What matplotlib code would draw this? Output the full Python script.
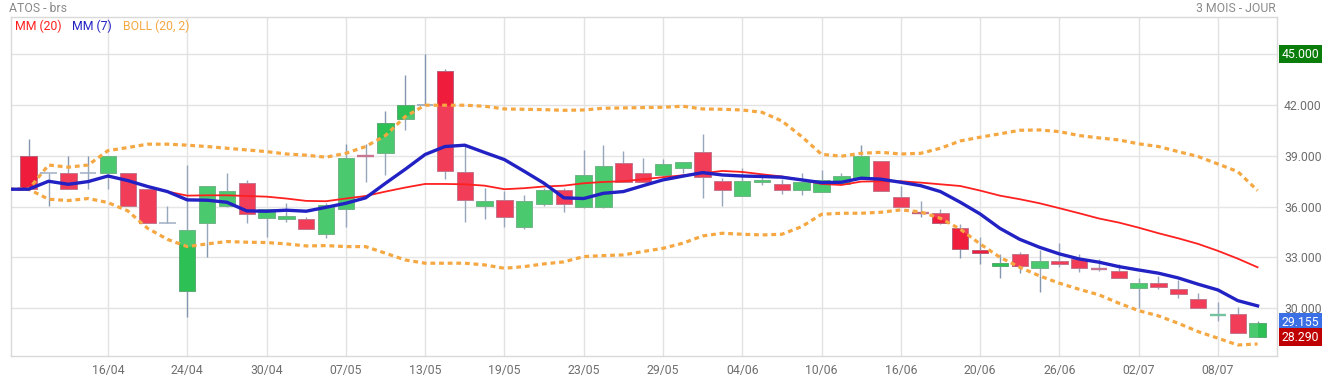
import numpy as np
import pandas as pd
import matplotlib
matplotlib.use("Agg")
import matplotlib.pyplot as plt
from matplotlib.patches import Rectangle
from matplotlib.transforms import blended_transform_factory

plt.rcParams['font.family'] = ['Roboto', 'DejaVu Sans']

## 1. Data
holidays = ['2025-04-18', '2025-04-21', '2025-05-01']
days = [d for d in pd.bdate_range('2025-04-10', '2025-07-10') if d.strftime('%Y-%m-%d') not in holidays]

opens = [39.00, 37.97, 37.97, 37.97, 37.97, 37.97, 37.03, 35.02, 31.00, 35.02,
         36.02, 37.38, 35.31, 35.30, 35.26, 34.37, 35.85, 39.02, 39.19, 41.20,
         41.99, 44.00, 38.03, 36.02, 36.38, 34.82, 36.18, 36.97, 35.96, 35.96,
         38.56, 37.97, 37.89, 38.31, 39.21, 37.50, 36.61, 37.48, 37.32, 36.97,
         36.89, 37.36, 37.62, 38.68, 36.56, 35.67, 35.61, 34.72, 33.43, 32.52,
         33.19, 32.40, 32.78, 32.93, 32.38, 32.18, 31.18, 31.48, 31.14, 30.55,
         29.60, 29.65, 28.29]
highs = [40.00, 37.97, 39.00, 39.00, 39.00, 37.97, 37.03, 36.04, 38.46, 37.22,
         37.99, 37.58, 35.85, 36.20, 35.37, 36.20, 39.70, 39.70, 41.65, 43.78,
         45.00, 44.11, 39.59, 37.09, 36.95, 36.69, 37.09, 37.09, 39.35, 39.65,
         39.29, 38.88, 38.82, 38.62, 40.30, 37.68, 38.29, 37.76, 37.62, 37.99,
         38.17, 37.99, 39.65, 38.68, 37.24, 36.32, 35.85, 34.98, 34.19, 33.19,
         33.33, 33.44, 33.86, 33.19, 32.89, 32.60, 31.79, 31.93, 31.67, 30.89,
         30.35, 30.06, 29.25]
lows = [37.03, 36.06, 37.03, 37.07, 37.07, 36.04, 35.02, 35.02, 29.47, 33.05,
        35.96, 35.06, 34.23, 35.12, 34.67, 34.17, 34.82, 37.48, 37.89, 40.55,
        41.99, 37.66, 35.12, 35.30, 34.82, 34.70, 36.06, 35.71, 35.91, 35.91,
        37.48, 37.48, 37.78, 37.99, 36.54, 36.06, 36.61, 37.30, 36.77, 36.71,
        36.89, 37.36, 37.62, 36.91, 35.96, 35.41, 34.96, 32.99, 32.64, 31.81,
        32.11, 30.98, 32.46, 32.13, 32.22, 31.77, 30.00, 31.12, 30.63, 30.00,
        29.27, 28.52, 28.29]
closes = [37.03, 37.97, 37.03, 37.97, 39.00, 36.04, 35.02, 35.02, 34.61, 37.22,
          36.93, 35.55, 35.85, 35.45, 34.67, 36.08, 38.86, 38.98, 40.93, 41.99,
          41.99, 38.11, 36.38, 36.32, 35.37, 36.32, 36.97, 36.14, 37.85, 38.39,
          37.48, 37.48, 38.50, 38.62, 37.78, 37.01, 37.50, 37.58, 36.97, 37.44,
          37.56, 37.80, 38.98, 36.91, 35.96, 35.63, 35.02, 33.48, 33.25, 32.68,
          32.48, 32.78, 32.60, 32.36, 32.34, 31.77, 31.48, 31.24, 30.83, 30.00,
          29.62, 28.52, 29.155]

# indicator values, first value = previous session
mm20 = [37.03, 37.03, 37.50, 37.32, 37.48, 37.81, 37.54, 37.19, 36.89, 36.65, 36.67,
        36.67, 36.63, 36.59, 36.48, 36.34, 36.32, 36.48, 36.63, 36.89, 37.13,
        37.34, 37.34, 37.32, 37.24, 37.03, 37.09, 37.19, 37.24, 37.38, 37.46,
        37.50, 37.62, 37.74, 37.85, 37.97, 38.11, 38.05, 37.91, 37.78, 37.58,
        37.34, 37.28, 37.48, 37.50, 37.50, 37.42, 37.32, 37.22, 36.95, 36.65,
        36.44, 36.20, 35.91, 35.61, 35.30, 35.06, 34.76, 34.43, 34.13, 33.80,
        33.39, 32.93, 32.42]
mm7 = [37.03, 37.03, 37.50, 37.32, 37.48, 37.81, 37.54, 37.19, 36.89, 36.40, 36.38,
       36.26, 35.75, 35.73, 35.79, 35.73, 35.96, 36.20, 36.52, 37.38, 38.21,
       39.08, 39.55, 39.63, 39.20, 38.78, 38.09, 37.38, 36.52, 36.48, 36.79,
       36.89, 37.24, 37.58, 37.80, 38.01, 37.87, 37.81, 37.78, 37.74, 37.58,
       37.42, 37.44, 37.68, 37.62, 37.44, 37.24, 36.89, 36.26, 35.57, 34.72,
       34.07, 33.60, 33.21, 32.91, 32.72, 32.46, 32.26, 32.07, 31.79, 31.42,
       31.08, 30.45, 30.14]
boll_up = [37.03, 37.03, 38.46, 38.33, 38.46, 39.31, 39.49, 39.69, 39.69, 39.63, 39.55,
           39.45, 39.35, 39.25, 39.11, 39.04, 38.92, 39.15, 39.55, 40.20, 41.32,
           41.99, 41.99, 41.99, 41.93, 41.77, 41.75, 41.73, 41.69, 41.71, 41.81,
           41.83, 41.85, 41.87, 41.93, 41.77, 41.75, 41.71, 41.57, 41.06, 40.14,
           39.09, 38.98, 39.15, 39.21, 39.11, 39.15, 39.45, 39.88, 40.10, 40.30,
           40.51, 40.53, 40.43, 40.20, 40.06, 39.94, 39.71, 39.55, 39.25, 38.96,
           38.52, 38.07, 36.95]
boll_low = [37.03, 37.03, 36.44, 36.36, 36.48, 36.24, 35.75, 34.72, 34.07, 33.64, 33.80,
            33.94, 33.90, 33.88, 33.80, 33.68, 33.70, 33.64, 33.64, 33.25, 32.85,
            32.66, 32.66, 32.66, 32.56, 32.36, 32.46, 32.62, 32.74, 33.05, 33.11,
            33.15, 33.35, 33.54, 33.84, 34.27, 34.43, 34.37, 34.33, 34.37, 34.82,
            35.55, 35.61, 35.61, 35.67, 35.81, 35.69, 35.31, 34.67, 33.80, 33.01,
            32.42, 31.91, 31.48, 31.12, 30.79, 30.30, 29.86, 29.55, 29.11, 28.62,
            28.23, 27.83, 27.89]

y_ticks = [30, 33, 36, 39, 42, 45]
period_high = 45.000
last_price = 29.155
period_low = 28.290

## 2. Figure
W, H = 1322, 380
fig = plt.figure(figsize=(W / 100, H / 100), dpi=100)
ax = fig.add_axes([11 / W, 24 / H, 1266 / W, 339 / H])

n = len(closes)
idx = np.arange(n)
ind_x = np.arange(-1, n)

# candles
UP, DOWN = '#2cc055', '#f01c3c'
WICK = '#8497b0'
bw = 0.83
for i in idx:
    o, h, l, c = opens[i], highs[i], lows[i], closes[i]
    ax.plot([i, i], [l, h], color=WICK, lw=1, zorder=2, solid_capstyle='butt')
    if abs(c - o) < 0.06:
        # doji: flat line, grey when open == close
        if c == o:
            ax.plot([i - bw / 2, i + bw / 2], [c, c], color='#8fa0b8', lw=1.1,
                    zorder=2.2, solid_capstyle='butt')
        else:
            ax.plot([i - bw / 2, i + bw / 2], [c, c], color='#5cb890' if c > o else '#c0607e',
                    lw=1.7, zorder=2.2, solid_capstyle='butt')
    else:
        up = c > o
        ax.add_patch(Rectangle((i - bw / 2, min(o, c)), bw, abs(c - o),
                               facecolor=UP if up else DOWN,
                               edgecolor='#5aa874' if up else '#b8607a',
                               lw=0.7, zorder=2.2))

# inside the bands the candles look washed out
ax.fill_between(ind_x, boll_low, boll_up, color='white', alpha=0.15, lw=0, zorder=3)

ax.plot(ind_x, boll_up, color='#f5a742', lw=2.3, ls=(0, (1.5, 1.2)), zorder=4)
ax.plot(ind_x, boll_low, color='#f5a742', lw=2.3, ls=(0, (1.5, 1.2)), zorder=4)
ax.plot(ind_x, mm20, color='#ff2020', lw=1.3, zorder=5)
ax.plot(ind_x, mm7, color='#2121c4', lw=2.4, zorder=6)

## 3. Axes styling
ax.set_xlim(-0.893, 62.98)
ax.set_ylim(27.18, 47.20)

tick_pos = list(range(4, n, 4))
ax.set_xticks(tick_pos)
ax.set_xticklabels([days[i].strftime('%d/%m') for i in tick_pos])
ax.set_yticks(y_ticks)
ax.set_yticklabels(['%.3f' % v if v != period_high else '' for v in y_ticks])
ax.yaxis.tick_right()
ax.tick_params(axis='x', length=0, pad=6, labelsize=8.8, labelcolor='#6e6e6e')
ax.tick_params(axis='y', length=0, pad=5, labelsize=8.8, labelcolor='#6e6e6e')
ax.grid(True, color='#e2e2e2', lw=1)
ax.set_axisbelow(True)
for s in ax.spines.values():
    s.set_color('#d9d9d9')
    s.set_linewidth(1)

# price boxes on the right
tr = blended_transform_factory(fig.transFigure, ax.transData)
for val, col in [(period_high, '#0b7d0b'), (last_price, '#3b6fe6'), (period_low, '#c00000')]:
    ax.text(1282 / W, val, '%.3f' % val, transform=tr, color='white', fontsize=8.8,
            va='center', ha='left', clip_on=False, zorder=10,
            bbox=dict(boxstyle='square,pad=0.22', fc=col, ec='none'))

# titles and legend
fig.text(9 / W, 1 - 9 / H, 'ATOS - brs', color='#8a8a8a', fontsize=8.8, va='center', ha='left')
fig.text(1276 / W, 1 - 9 / H, '3 MOIS - JOUR', color='#8a8a8a', fontsize=8.8, va='center', ha='right')
for x, txt, col in [(15, 'MM (20)', '#ff2020'), (72, 'MM (7)', '#2121c4'), (123, 'BOLL (20, 2)', '#f5a742')]:
    fig.text(x / W, 1 - 26 / H, txt, color=col, fontsize=8.8, va='center', ha='left')

fig.savefig('out.png', dpi=100)
